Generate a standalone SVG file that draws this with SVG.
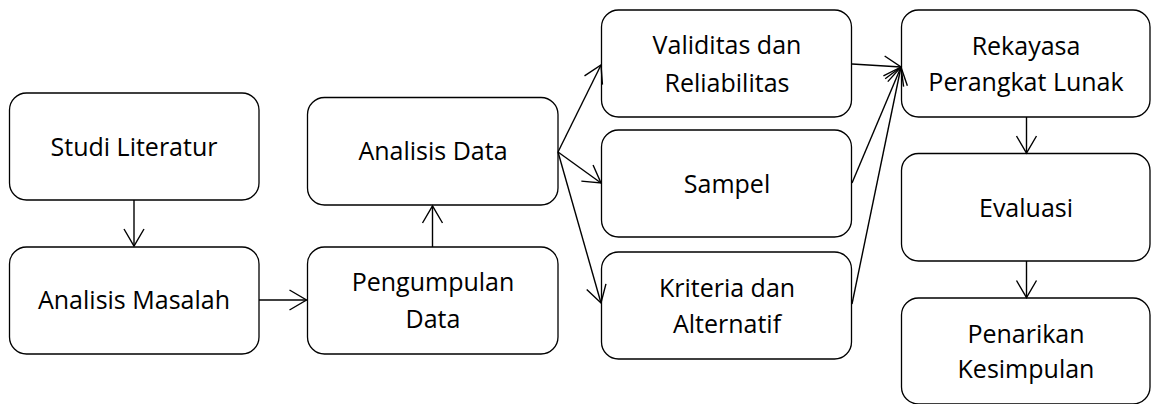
<svg xmlns="http://www.w3.org/2000/svg" width="1152" height="404" viewBox="0 0 1152 404">
<style>
.box{fill:#fff;stroke:#000;stroke-width:1.3}
.t{font-family:"Open Sans","Liberation Sans",sans-serif;font-size:25px;fill:#000;text-anchor:middle}
.c{fill:none;stroke:#000;stroke-width:1.4}
</style>
<defs>
<marker id="ah" markerUnits="userSpaceOnUse" markerWidth="24" markerHeight="24" viewBox="-20 -12 24 24" refX="0" refY="0" orient="auto">
<path d="M-17,-10 L0,0 L-17,10" fill="none" stroke="#000" stroke-width="1.4"/>
</marker>
</defs>
<rect width="1152" height="404" fill="#fff"/>
<g id="n-studi"><rect class="box" x="9.5" y="93" width="249.5" height="107" rx="17"/><text class="t" x="134" y="156">Studi Literatur</text></g>
<g id="n-masalah"><rect class="box" x="9.5" y="247" width="249.5" height="107" rx="17"/><text class="t" x="134" y="309">Analisis Masalah</text></g>
<g id="n-analisis"><rect class="box" x="307.5" y="97.5" width="250.5" height="107.5" rx="17"/><text class="t" x="433" y="160">Analisis Data</text></g>
<g id="n-pengumpulan"><rect class="box" x="307.5" y="247" width="250.5" height="107" rx="17"/><text class="t" x="433" y="291">Pengumpulan</text><text class="t" x="433" y="328">Data</text></g>
<g id="n-validitas"><rect class="box" x="601.5" y="10" width="250" height="107" rx="17"/><text class="t" x="727" y="54">Validitas dan</text><text class="t" x="727" y="92">Reliabilitas</text></g>
<g id="n-sampel"><rect class="box" x="601.5" y="130" width="250" height="107" rx="17"/><text class="t" x="727" y="193">Sampel</text></g>
<g id="n-kriteria"><rect class="box" x="601.5" y="252" width="250" height="107" rx="17"/><text class="t" x="727" y="297">Kriteria dan</text><text class="t" x="727" y="333">Alternatif</text></g>
<g id="n-rekayasa"><rect class="box" x="901.5" y="10" width="248.5" height="107" rx="17"/><text class="t" x="1026" y="55">Rekayasa</text><text class="t" x="1026" y="91">Perangkat Lunak</text></g>
<g id="n-evaluasi"><rect class="box" x="901.5" y="153.5" width="248.5" height="107.5" rx="17"/><text class="t" x="1026" y="217">Evaluasi</text></g>
<g id="n-penarikan"><rect class="box" x="901.5" y="298" width="248.5" height="106" rx="17"/><text class="t" x="1026" y="343">Penarikan</text><text class="t" x="1026" y="378">Kesimpulan</text></g>
<g id="connectors">
<line class="c" x1="134" y1="200" x2="134" y2="246" marker-end="url(#ah)"/>
<line class="c" x1="259" y1="300" x2="306.5" y2="300" marker-end="url(#ah)"/>
<line class="c" x1="432.5" y1="247" x2="432.5" y2="206" marker-end="url(#ah)"/>
<line class="c" x1="558" y1="152" x2="601" y2="65" marker-end="url(#ah)"/>
<line class="c" x1="558" y1="152" x2="601" y2="183" marker-end="url(#ah)"/>
<line class="c" x1="558" y1="152" x2="601" y2="303" marker-end="url(#ah)"/>
<line class="c" x1="852" y1="64" x2="901" y2="67" marker-end="url(#ah)"/>
<line class="c" x1="852" y1="183" x2="901" y2="67" marker-end="url(#ah)"/>
<line class="c" x1="852" y1="304" x2="901" y2="67" marker-end="url(#ah)"/>
<line class="c" x1="1026.5" y1="117" x2="1026.5" y2="153" marker-end="url(#ah)"/>
<line class="c" x1="1026.5" y1="261" x2="1026.5" y2="297.5" marker-end="url(#ah)"/>
</g>
</svg>
